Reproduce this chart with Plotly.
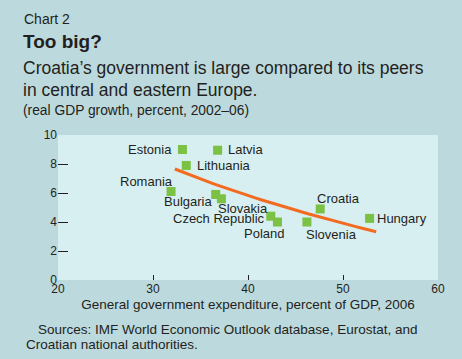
import numpy as np
import plotly.graph_objects as go

# ---- data ----
countries = ["Estonia", "Latvia", "Lithuania", "Romania", "Bulgaria", "Slovakia",
             "Czech Republic", "Poland", "Slovenia", "Croatia", "Hungary"]
expenditure = [33.1, 36.8, 33.5, 31.9, 36.6, 37.2, 42.4, 43.1, 46.2, 47.6, 52.8]
gdp_growth = [9.0, 8.95, 7.9, 6.1, 5.9, 5.6, 4.4, 4.0, 4.0, 4.9, 4.25]
trend_x_range = [32.3, 53.5]
x_ticks = [20, 30, 40, 50, 60]
y_ticks = [0, 2, 4, 6, 8, 10]

# ---- styles ----
PAPER = "#bcd9dd"
PLOT = "#d8eff1"
INK = "#231f20"
GREEN = "#7bc143"
ORANGE = "#f26b21"
FONT = "Liberation Sans"
W, H = 462, 359
ML, MR, MT, MB = 58, 24, 134.5, 78.5

# label placement (anchor, x shift px, y shift px)
label_style = {
    "Estonia": ("right", -8, 0),
    "Latvia": ("left", 8, 1),
    "Lithuania": ("left", 9, 0),
    "Romania": ("right", 4, 10),
    "Bulgaria": ("right", -2, -7),
    "Slovakia": ("left", -5, -9.5),
    "Czech Republic": ("right", -4, -2.5),
    "Poland": ("center", -13, -11),
    "Slovenia": ("left", -3, -12),
    "Croatia": ("left", -5, 10),
    "Hungary": ("left", 5, 0),
}

# logarithmic trend line fitted to data
lx = np.log(np.array(expenditure))
b, a = np.polyfit(lx, np.array(gdp_growth), 1)
tx = np.linspace(trend_x_range[0], trend_x_range[1], 60)
ty = a + b * np.log(tx)

fig = go.Figure()
fig.add_trace(go.Scatter(x=tx, y=ty, mode="lines",
                         line=dict(color=ORANGE, width=3), hoverinfo="skip"))
fig.add_trace(go.Scatter(x=expenditure, y=gdp_growth, mode="markers",
                         marker=dict(symbol="square", size=9, color=GREEN,
                                     line=dict(width=0))))

for c, x, y in zip(countries, expenditure, gdp_growth):
    anc, xs, ys = label_style[c]
    fig.add_annotation(x=x, y=y, xref="x", yref="y", text=c, showarrow=False,
                       xanchor=anc, yanchor="middle", xshift=xs, yshift=ys,
                       font=dict(family=FONT, size=13, color=INK))

fig.update_xaxes(range=[20, 60], tickvals=x_ticks, ticks="inside", ticklen=5,
                 tickcolor=INK, tickwidth=1, showgrid=False, zeroline=False,
                 showline=False, tickfont=dict(family=FONT, size=12, color=INK),
                 title=dict(text="General government expenditure, percent of GDP, 2006",
                            font=dict(family=FONT, size=13.5, color=INK), standoff=4))
fig.update_yaxes(range=[0, 10], tickvals=y_ticks, ticks="inside", ticklen=10,
                 tickcolor=INK, tickwidth=1, showgrid=False, zeroline=False,
                 showline=False, tickfont=dict(family=FONT, size=12, color=INK))

pw, ph = W - ML - MR, H - MT - MB
texts = [
    ("Chart 2", 22, 18, 14),
    ("<b>Too big?</b>", 21, 40, 19),
    ("Croatia’s government is large compared to its peers", 21, 67.5, 17.5),
    ("in central and eastern Europe.", 21, 89.5, 17.5),
    ("(real GDP growth, percent, 2002–06)", 21, 110, 13.8),
    ("Sources: IMF World Economic Outlook database, Eurostat, and", 36, 330, 13.5),
    ("Croatian national authorities.", 24, 345, 13.5),
]
for t, px, py, s in texts:
    fig.add_annotation(text=t, x=(px - ML) / pw, y=(H - MB - py) / ph,
                       xref="paper", yref="paper",
                       xanchor="left", yanchor="middle", showarrow=False,
                       font=dict(family=FONT, size=s, color=INK))

fig.update_layout(width=W, height=H, paper_bgcolor=PAPER, plot_bgcolor=PLOT,
                  showlegend=False, margin=dict(l=ML, r=MR, t=MT, b=MB))

fig.write_html("out.html", config={"displayModeBar": False},
               post_script="document.body.style.margin='0px';")
